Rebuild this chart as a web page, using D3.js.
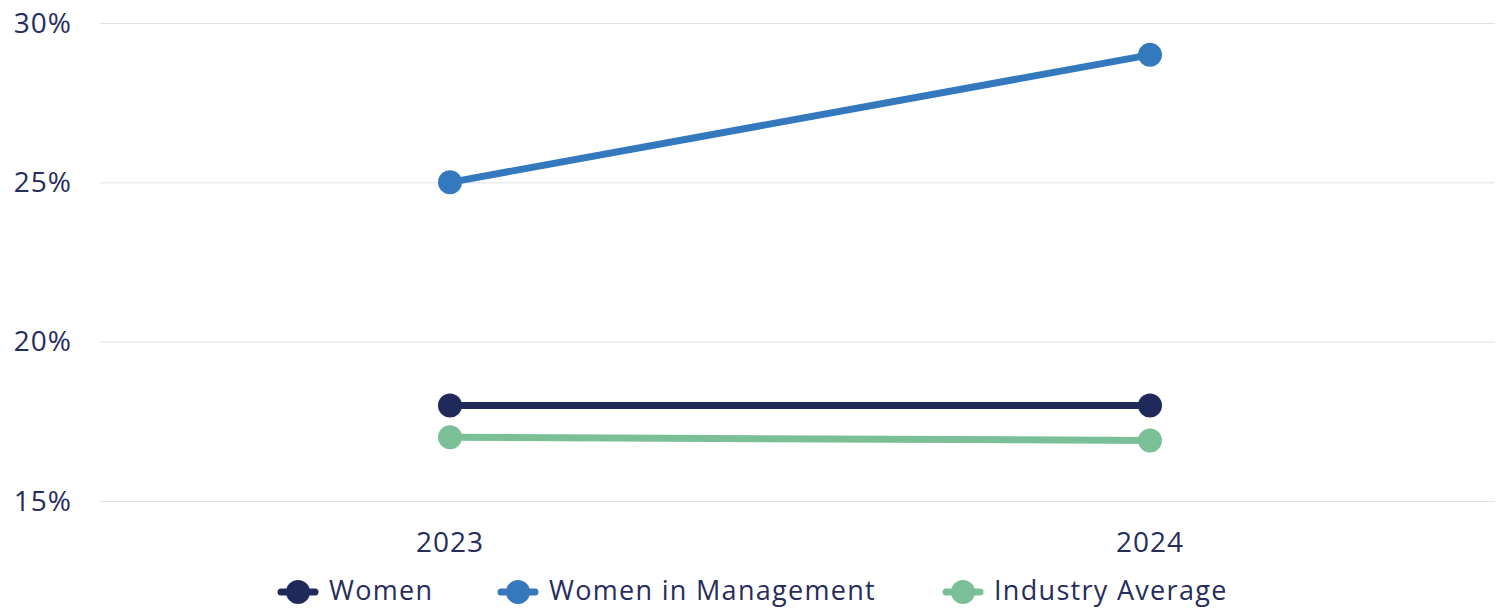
<!DOCTYPE html>
<html>
<head>
<meta charset="utf-8">
<script src="https://cdn.jsdelivr.net/npm/d3@7"></script>
<style>
  body { margin: 0; background: #fff; }
  text { font-family: "Open Sans", "Noto Sans", sans-serif; fill: #262d5c; letter-spacing: 1px; }
</style>
</head>
<body>
<svg id="chart" width="1503" height="609"></svg>
<script>
var years = ["2023", "2024"];
var women = [18, 18];
var womenMgmt = [25, 29];
var industryAvg = [17, 16.9];
var yTicks = [15, 20, 25, 30];

var series = [
    { name: "Women", values: women, color: "#1f2a5a" },
    { name: "Women in Management", values: womenMgmt, color: "#3479bd" },
    { name: "Industry Average", values: industryAvg, color: "#7bbf97" }
];

var svg = d3.select("#chart");
var plotLeft = 100, plotRight = 1500, plotTop = 23, plotBottom = 501;

var x = d3.scalePoint().domain(years).range([plotLeft, plotRight]).padding(0.5);
var y = d3.scaleLinear().domain([15, 30]).range([plotBottom, plotTop]);

// grid
svg.append("g")
    .selectAll("line")
    .data(yTicks)
    .enter()
    .append("line")
    .attr("x1", plotLeft)
    .attr("x2", plotRight - 5)
    .attr("y1", function (d) { return y(d) + 0.5; })
    .attr("y2", function (d) { return y(d) + 0.5; })
    .attr("stroke", "#e1e1e1")
    .attr("stroke-width", 1);

// y labels
svg.append("g")
    .selectAll("text")
    .data(yTicks)
    .enter()
    .append("text")
    .attr("x", 72)
    .attr("y", function (d) { return y(d); })
    .attr("dy", "0.35em")
    .attr("text-anchor", "end")
    .attr("font-size", 28)
    .text(function (d) { return d + "%"; });

// x labels
svg.append("g")
    .selectAll("text")
    .data(years)
    .enter()
    .append("text")
    .attr("x", function (d) { return x(d); })
    .attr("y", 542)
    .attr("dy", "0.35em")
    .attr("text-anchor", "middle")
    .attr("font-size", 28)
    .text(function (d) { return d; });

var line = d3.line()
    .x(function (d, i) { return x(years[i]); })
    .y(function (d) { return y(d); });

series.forEach(function (s) {
    svg.append("path")
        .datum(s.values)
        .attr("d", line)
        .attr("fill", "none")
        .attr("stroke", s.color)
        .attr("stroke-width", 7);

    svg.append("g")
        .selectAll("circle")
        .data(s.values)
        .enter()
        .append("circle")
        .attr("cx", function (d, i) { return x(years[i]); })
        .attr("cy", function (d) { return y(d); })
        .attr("r", 12)
        .attr("fill", s.color);
});

// legend
var legendX = [278, 498, 943];
var legend = svg.append("g")
    .selectAll("g")
    .data(series)
    .enter()
    .append("g")
    .attr("transform", function (d, i) { return "translate(" + legendX[i] + ",592)"; });

legend.append("line")
    .attr("x1", 3).attr("x2", 37)
    .attr("y1", 0).attr("y2", 0)
    .attr("stroke", function (d) { return d.color; })
    .attr("stroke-width", 7)
    .attr("stroke-linecap", "round");

legend.append("circle")
    .attr("cx", 20)
    .attr("cy", 0)
    .attr("r", 12)
    .attr("fill", function (d) { return d.color; });

legend.append("text")
    .attr("x", 51)
    .attr("y", -1)
    .attr("dy", "0.35em")
    .attr("font-size", 27)
    .style("letter-spacing", "1.3px")
    .text(function (d) { return d.name; });
</script>
</body>
</html>
